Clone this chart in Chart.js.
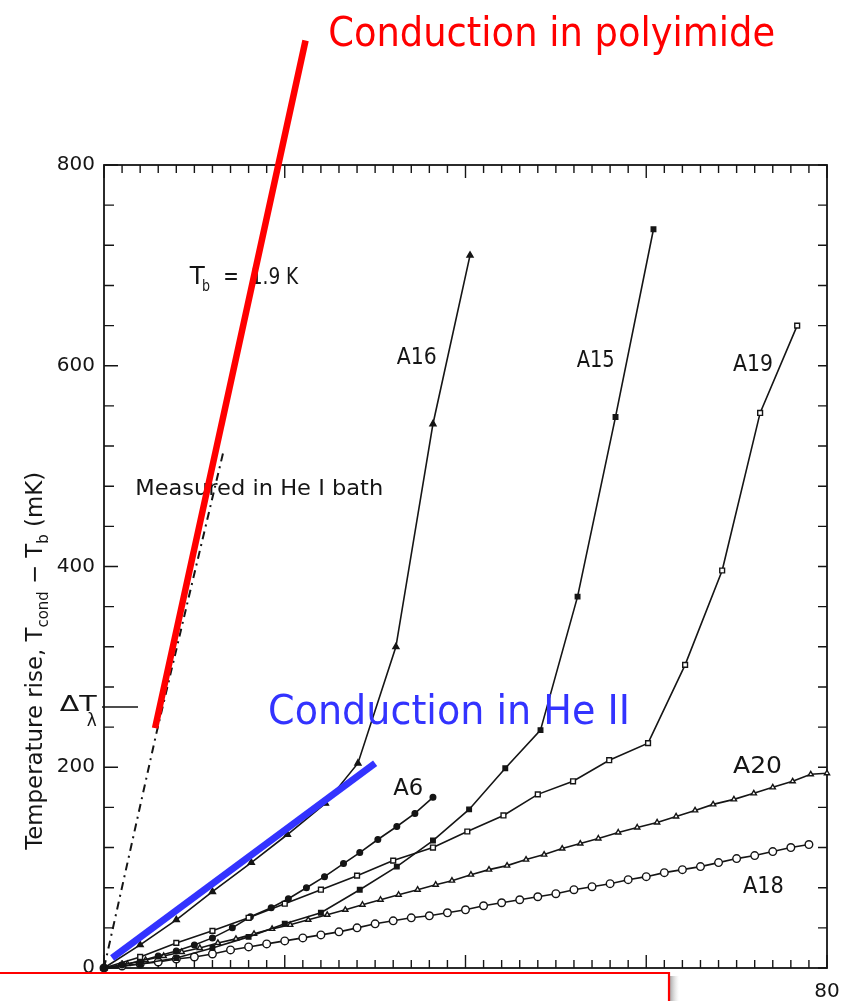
<!DOCTYPE html>
<html><head><meta charset="utf-8">
<script src="https://cdn.jsdelivr.net/npm/chart.js@4.4.1/dist/chart.umd.min.js"></script>
<style>html,body{margin:0;padding:0;background:#fff}#wrap{width:842px;height:1001px;position:relative}</style>
</head><body><div id="wrap"><canvas id="c" width="842" height="1001"></canvas></div>
<script>
// ---------- data ----------
const xTickLabels = [0, 20, 40, 60, 80];
const yTickLabels = [0, 200, 400, 600, 800];
const deltaTLambda = 260;

const a16X = [0, 4, 8, 12, 16.3, 20.3, 24.5, 28.1, 32.3, 36.4, 40.5];
const a16Y = [0, 23, 48, 76, 105, 133, 164, 204, 320, 542, 710];

const a15X = [0, 4, 8, 12, 16, 20, 24, 28.3, 32.4, 36.4, 40.4, 44.4, 48.3, 52.4, 56.6, 60.8];
const a15Y = [0, 4, 10, 20, 31, 44, 55, 78, 101, 127, 158, 199, 237, 370, 549, 736];

const a19X = [0, 4, 8, 12, 16, 20, 24, 28, 32, 36.4, 40.2, 44.2, 48, 51.9, 55.9, 60.2, 64.3, 68.4, 72.6, 76.7];
const a19Y = [0, 11, 25, 37, 50, 64, 78, 92, 107, 120, 136, 152, 173, 186, 207, 224, 302, 396, 553, 640];

const a6X = [0, 2, 4, 6, 8, 10, 12, 14.2, 16.2, 18.5, 20.4, 22.4, 24.4, 26.5, 28.3, 30.3, 32.4, 34.4, 36.4];
const a6Y = [0, 3, 7, 12, 17, 23, 30, 40, 51, 60, 69, 80, 91, 104, 115, 128, 141, 154, 170];

const a20X = [0, 2.6, 4.6, 6.6, 8.6, 10.6, 12.6, 14.6, 16.6, 18.6, 20.6, 22.6, 24.7, 26.7, 28.6, 30.6, 32.6, 34.7, 36.7,
              38.5, 40.6, 42.6, 44.6, 46.7, 48.7, 50.7, 52.7, 54.7, 56.9, 59.0, 61.2, 63.3, 65.4, 67.4, 69.7, 71.9, 74.0, 76.2, 78.2, 80];
const a20Y = [0, 4, 8, 12, 16, 20, 25, 29, 34, 39, 43, 48, 53, 58, 63, 68, 73, 78, 83,
              87, 93, 98, 102, 108, 113, 119, 124, 129, 135, 140, 145, 151, 157, 163, 168, 174, 180, 186, 193, 194];

const a18X = [0, 2, 4, 6, 8, 10, 12, 14, 16, 18, 20, 22, 24, 26, 28, 30, 32, 34, 36, 38,
              40, 42, 44, 46, 48, 50, 52, 54, 56, 58, 60, 62, 64, 66, 68, 70, 72, 74, 76, 78];
const a18Y = [0, 2, 4, 6, 9, 11, 14, 18, 21, 24, 27, 30, 33, 36, 40, 44, 47, 50, 52, 55,
              58, 62, 65, 68, 71, 74, 78, 81, 84, 88, 91, 95, 98, 101, 105, 109, 112, 116, 120, 123];

const heIX = [0, 5.8, 13.2];          // "Measured in He I bath"
const heIY = [0, 234, 514];
const polyX = [5.65, 22.3];           // red overlay: conduction in polyimide
const polyY = [239, 924];
const heIIX = [0.9, 30.0];            // blue overlay: conduction in He II
const heIIY = [10, 204];

// ---------- helpers ----------
const pts = (xs, ys) => xs.map((x, i) => ({x: x, y: ys[i]}));
const FAM = "'DejaVu Sans', 'Liberation Sans', sans-serif";
const INK = '#151515';

function series(label, xs, ys, style, radius, filled) {
  return {
    label, data: pts(xs, ys), showLine: true, borderColor: INK, borderWidth: 1.6,
    pointStyle: style, pointRadius: radius, pointBorderWidth: 1.4,
    pointBorderColor: INK, pointBackgroundColor: filled ? INK : '#fff', tension: 0
  };
}

function fitText(ctx, txt, x, y, width, size, color, family) {
  ctx.save();
  ctx.font = size + 'px ' + (family || FAM);
  ctx.fillStyle = color || INK;
  ctx.textAlign = 'left';
  ctx.textBaseline = 'alphabetic';
  const m = ctx.measureText(txt).width;
  ctx.translate(x, y);
  if (width) ctx.scale(width / m, 1);
  ctx.fillText(txt, 0, 0);
  ctx.restore();
}

const annotations = [
  // text, x value, y value (baseline-left), width px, font size
  ['A16', 32.4, 602, 40, 23],
  ['A15', 52.3, 599, 38, 23],
  ['A19', 69.6, 595, 40, 23],
  ['A6', 32.0, 172, 30, 23],
  ['A20', 69.6, 194, 49, 23],
  ['A18', 70.7, 75, 41, 23],
  ['Measured in He I bath', 3.45, 471, 248, 22],
  ['T', 9.5, 681, 15, 24],
  ['b', 10.85, 674, 8, 16],
  ['=  1.9 K', 13.2, 681, 75, 23],
  ['\u0394T', -4.9, 256, 37, 21],
  ['\u03bb', -1.9, 241, 10, 17]
];

const framePlugin = {
  id: 'frame',
  beforeDatasetsDraw(c) {
    const ctx = c.ctx, a = c.chartArea, sx = c.scales.x, sy = c.scales.y;
    ctx.save();
    ctx.strokeStyle = INK;
    ctx.lineWidth = 1.8;
    ctx.strokeRect(a.left, a.top, a.right - a.left, a.bottom - a.top);
    ctx.lineWidth = 1.4;
    ctx.beginPath();
    for (let v = 0; v <= 80; v += 2) {
      const px = sx.getPixelForValue(v);
      const L = (v % 20 === 0) ? 13 : 8;
      ctx.moveTo(px, a.bottom); ctx.lineTo(px, a.bottom - L);
      ctx.moveTo(px, a.top); ctx.lineTo(px, a.top + L);
    }
    for (let v = 0; v <= 800; v += 40) {
      const py = sy.getPixelForValue(v);
      const L = (v % 200 === 0) ? 14 : 10;
      ctx.moveTo(a.left, py); ctx.lineTo(a.left + L, py);
      ctx.moveTo(a.right, py); ctx.lineTo(a.right - 9, py);
    }
    const pl = sy.getPixelForValue(deltaTLambda);
    ctx.moveTo(a.left - 2, pl); ctx.lineTo(a.left + 34, pl);
    ctx.stroke();

    // black annotations (under the coloured overlay lines)
    annotations.forEach(([t, xv, yv, w, s]) => {
      fitText(ctx, t, sx.getPixelForValue(xv), sy.getPixelForValue(yv), w, s);
    });

    // y axis title (rotated, with subscripts)
    const parts = [['Temperature rise, T', 0], ['cond', 1], [' \u2212 T', 0], ['b', 1], [' (mK)', 0]];
    const big = 23, small = 15;
    let total = 0;
    const widths = parts.map(([t, sub]) => {
      ctx.font = (sub ? small : big) + 'px ' + FAM;
      const w = ctx.measureText(t).width; total += w; return w;
    });
    const len = 378;
    const yMid = sy.getPixelForValue(306);
    ctx.translate(a.left - 62, yMid + len / 2);
    ctx.rotate(-Math.PI / 2);
    ctx.scale(len / total, 1);
    ctx.fillStyle = INK;
    ctx.textBaseline = 'alphabetic';
    let pos = 0;
    parts.forEach(([t, sub], i) => {
      ctx.font = (sub ? small : big) + 'px ' + FAM;
      ctx.fillText(t, pos, sub ? 6 : 0);
      pos += widths[i];
    });
    ctx.restore();
  },
  afterDatasetsDraw(c) {
    const ctx = c.ctx, sx = c.scales.x, sy = c.scales.y;
    fitText(ctx, 'Conduction in He II', sx.getPixelForValue(18.15), sy.getPixelForValue(243), 362, 40, '#3333ff');
    fitText(ctx, 'Conduction in polyimide', sx.getPixelForValue(24.8), sy.getPixelForValue(919), 447, 41, '#ff0000');
  },
  afterDraw(c) {
    const ctx = c.ctx;
    ctx.save();
    const top = 973, right = 669;
    const g = ctx.createLinearGradient(right, 0, right + 10, 0);
    g.addColorStop(0, 'rgba(120,120,120,0.75)');
    g.addColorStop(1, 'rgba(200,200,200,0)');
    ctx.fillStyle = g;
    ctx.fillRect(right, top + 3, 10, 1001 - top);
    ctx.fillStyle = '#fff';
    ctx.fillRect(-2, top, right + 2, 1001 - top + 2);
    ctx.strokeStyle = '#ff0000';
    ctx.lineWidth = 2.2;
    ctx.beginPath();
    ctx.moveTo(-2, top); ctx.lineTo(right, top); ctx.lineTo(right, 1003);
    ctx.stroke();
    ctx.restore();
  }
};

const datasets = [
  {label: 'polyimide', data: pts(polyX, polyY), showLine: true, borderColor: '#ff0000', borderWidth: 6.5,
   pointRadius: 0, clip: false, borderCapStyle: 'butt'},
  {label: 'He II', data: pts(heIIX, heIIY), showLine: true, borderColor: '#3333ff', borderWidth: 7,
   pointRadius: 0, clip: false, borderCapStyle: 'butt'},
  {label: 'He I bath', data: pts(heIX, heIY), showLine: true, borderColor: INK, borderWidth: 2,
   borderDash: [8, 5, 2, 5], pointRadius: 0, clip: false},
  series('A16', a16X, a16Y, 'triangle', 3.5, true),
  series('A15', a15X, a15Y, 'rect', 3.2, true),
  series('A19', a19X, a19Y, 'rect', 3.4, false),
  series('A6', a6X, a6Y, 'circle', 2.8, true),
  series('A20', a20X, a20Y, 'triangle', 3, false),
  series('A18', a18X, a18Y, 'circle', 3.8, false)
];
datasets.forEach(d => { if (d.clip === undefined) d.clip = 8; });

new Chart(document.getElementById('c').getContext('2d'), {
  type: 'scatter',
  data: {datasets},
  options: {
    responsive: false,
    animation: false,
    events: [],
    layout: {padding: {top: 165, right: 15, left: 0, bottom: 0}},
    plugins: {legend: {display: false}, tooltip: {enabled: false}},
    scales: {
      x: {
        type: 'linear', min: 0, max: 80,
        afterFit(s) { s.height = 33; s.paddingLeft = 0; s.paddingRight = 0; },
        afterBuildTicks(s) { s.ticks = xTickLabels.map(v => ({value: v})); },
        grid: {display: false, drawTicks: false},
        border: {display: false},
        ticks: {font: {family: FAM, size: 20}, color: INK, padding: 12, maxRotation: 0, autoSkip: false}
      },
      y: {
        type: 'linear', min: 0, max: 800,
        afterFit(s) { s.width = 104; s.paddingTop = 0; s.paddingBottom = 0; },
        afterBuildTicks(s) { s.ticks = yTickLabels.map(v => ({value: v})); },
        grid: {display: false, drawTicks: false},
        border: {display: false},
        ticks: {font: {family: FAM, size: 20}, color: INK, padding: 9, autoSkip: false}
      }
    }
  },
  plugins: [framePlugin]
});
</script>
</body></html>
